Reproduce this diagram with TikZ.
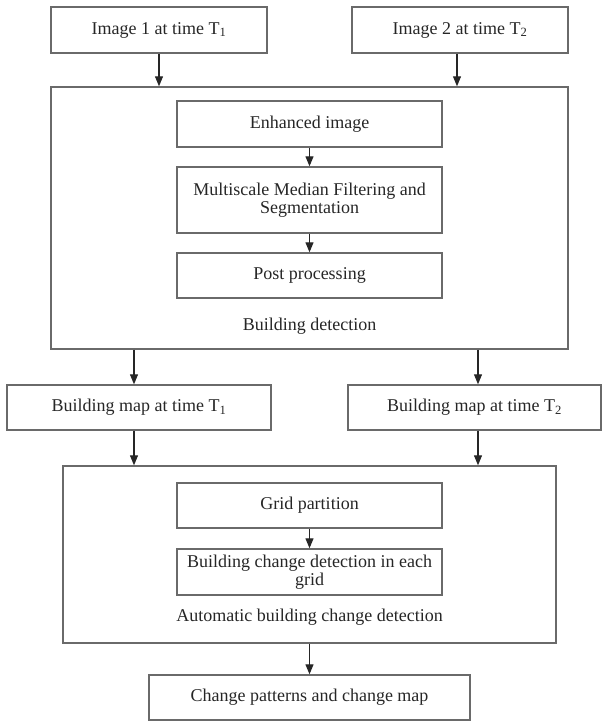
\documentclass[tikz,border=0pt]{standalone}
\usepackage{fontspec}
\setmainfont{Liberation Serif}
\usetikzlibrary{arrows.meta,calc}
\definecolor{edge}{HTML}{6A6A6A}
\definecolor{ink}{HTML}{262626}
\tikzset{
  box/.style={draw=edge, line width=1.4pt, rectangle, inner sep=0pt, align=center,
    text=ink, font=\fontsize{18}{18.5}\selectfont},
  lbl/.style={text=ink, font=\fontsize{18}{18.5}\selectfont, inner sep=0pt},
  arr/.style={draw=ink, line width=1.1pt, -{Triangle[width=8pt,length=10pt]}},
}
\begin{document}
\begin{tikzpicture}[x=1pt,y=-1pt]
\useasboundingbox (0,0) rectangle (609,722);
\node[box, minimum width=216pt, minimum height=46pt] (img1) at (159,30) {Image 1 at time T\textsubscript{1}};
\node[box, minimum width=216pt, minimum height=46pt] (img2) at (460,30) {Image 2 at time T\textsubscript{2}};
\node[box, minimum width=517pt, minimum height=262pt] (bd) at (309.5,218) {};
\node[box, minimum width=265pt, minimum height=46pt] (enh) at (309.5,124) {Enhanced image};
\node[box, minimum width=265pt, minimum height=66pt] (mmf) at (309.5,200) {Multiscale Median Filtering and\\Segmentation};
\node[box, minimum width=265pt, minimum height=45pt] (post) at (309.5,275.5) {Post processing};
\node[lbl] (bdl) at (309.5,326) {Building detection};
\node[box, minimum width=264pt, minimum height=45pt] (map1) at (139,407.5) {Building map at time T\textsubscript{1}};
\node[box, minimum width=253pt, minimum height=45pt] (map2) at (474.5,407.5) {Building map at time T\textsubscript{2}};
\node[box, minimum width=493pt, minimum height=177pt] (cd) at (309.5,554.5) {};
\node[box, minimum width=265pt, minimum height=45pt] (grid) at (309.5,505.5) {Grid partition};
\node[box, minimum width=265pt, minimum height=46pt] (bcd) at (309.5,572) {Building change detection in each\\grid};
\node[lbl] (cdl) at (309.5,617) {Automatic building change detection};
\node[box, minimum width=321pt, minimum height=45pt] (cp) at (309.5,697.5) {Change patterns and change map};
% arrows
\draw[arr] (img1.south) -- (img1.south |- bd.north);
\draw[arr] ([xshift=-3pt]img2.south) -- ([xshift=-3pt]img2.south |- bd.north);
\draw[arr] (enh) -- (mmf);
\draw[arr] (mmf) -- (post);
\draw[arr] ([xshift=-5pt]map1.north |- bd.south) -- ([xshift=-5pt]map1.north);
\draw[arr] ([xshift=3.5pt]map2.north |- bd.south) -- ([xshift=3.5pt]map2.north);
\draw[arr] ([xshift=-5pt]map1.south) -- ([xshift=-5pt]map1.south |- cd.north);
\draw[arr] ([xshift=3.5pt]map2.south) -- ([xshift=3.5pt]map2.south |- cd.north);
\draw[arr] (grid) -- (bcd);
\draw[arr] (cd.south) -- (cp.north);
\end{tikzpicture}
\end{document}
